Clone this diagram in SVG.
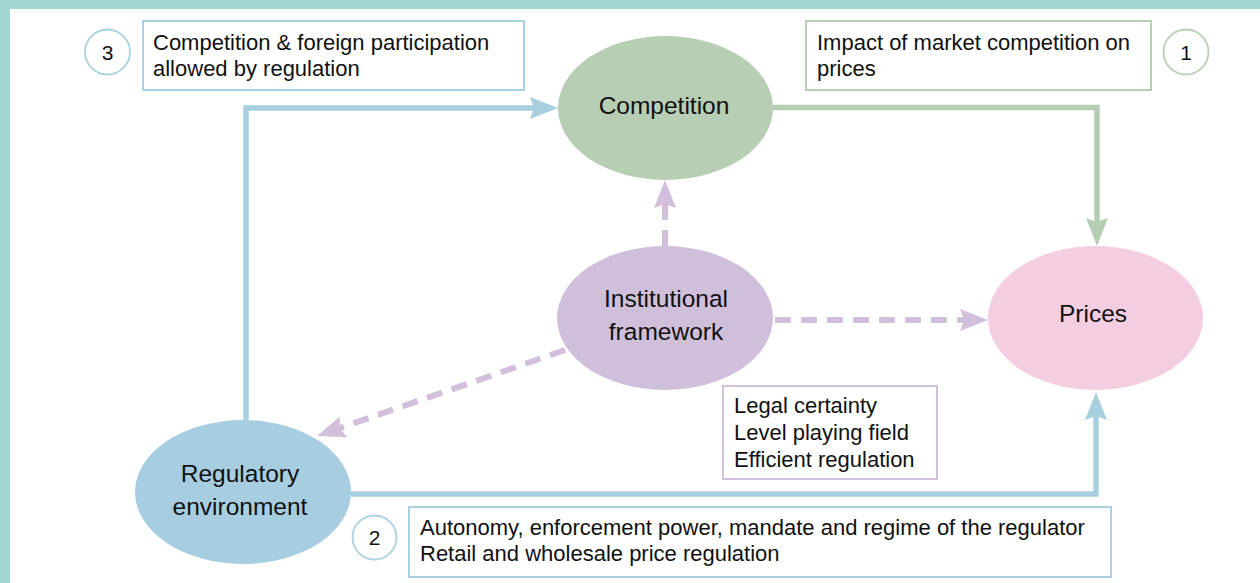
<svg xmlns="http://www.w3.org/2000/svg" width="1260" height="583" viewBox="0 0 1260 583">
  <style>
    .main { font-family: "Liberation Sans", Arial, sans-serif; font-size: 24.5px; fill: #111; text-anchor: middle; }
    .small { font-family: "Liberation Sans", Arial, sans-serif; font-size: 22px; fill: #111; }
    .num { font-family: "Liberation Sans", Arial, sans-serif; font-size: 21px; fill: #111; text-anchor: middle; }
    .box { fill: #fff; stroke-width: 2; }
    .circ { fill: #fff; stroke-width: 1.8; }
    .solid { fill: none; stroke-width: 5.5; stroke-linejoin: miter; }
    .dash { fill: none; stroke: #d1bfdb; stroke-width: 6; stroke-dasharray: 16 10; }
  </style>
  <defs>
    <marker id="arrBlue" viewBox="0 0 28 22" markerWidth="28" markerHeight="22" markerUnits="userSpaceOnUse" refX="20" refY="11" orient="auto">
      <path d="M0,0 L28,11 L0,22 L4,11 z" fill="#a7cfe0"/>
    </marker>
    <marker id="arrGreen" viewBox="0 0 28 22" markerWidth="28" markerHeight="22" markerUnits="userSpaceOnUse" refX="20" refY="11" orient="auto">
      <path d="M0,0 L28,11 L0,22 L4,11 z" fill="#b5cdb3"/>
    </marker>
    <marker id="arrPurple" viewBox="0 0 28 22" markerWidth="28" markerHeight="22" markerUnits="userSpaceOnUse" refX="20" refY="11" orient="auto">
      <path d="M0,0 L28,11 L0,22 L4,11 z" fill="#d1bfdb"/>
    </marker>
  </defs>

  <!-- frame -->
  <rect x="0" y="0" width="1260" height="9" fill="#a1d5d4"/>
  <rect x="0" y="0" width="10" height="583" fill="#a1d5d4"/>

  <!-- connectors -->
  <g id="connectors">
    <path class="solid" stroke="#b5cdb3" d="M773,107.5 H1097 V238" marker-end="url(#arrGreen)"/>
    <path class="solid" stroke="#a7cfe0" d="M246,420 V108 H550" marker-end="url(#arrBlue)"/>
    <path class="solid" stroke="#a7cfe0" d="M351,494 H1096 V400" marker-end="url(#arrBlue)"/>
    <path class="dash" d="M665,246 V188" marker-end="url(#arrPurple)"/>
    <path class="dash" d="M775,320 H980" marker-end="url(#arrPurple)"/>
    <path class="dash" d="M565,350 L324.6,433.4" marker-end="url(#arrPurple)"/>
  </g>

  <!-- nodes -->
  <g id="competition">
    <ellipse cx="665.5" cy="108" rx="107.5" ry="72" fill="#b7cdb4"/>
    <text class="main" x="664" y="114">Competition</text>
  </g>
  <g id="prices">
    <ellipse cx="1095.5" cy="318" rx="107.5" ry="72" fill="#f3cde0"/>
    <text class="main" x="1093" y="322">Prices</text>
  </g>
  <g id="institutional">
    <ellipse cx="665" cy="318" rx="108" ry="72" fill="#d0bfdb"/>
    <text class="main" x="666" y="307">Institutional</text>
    <text class="main" x="666" y="340">framework</text>
  </g>
  <g id="regulatory">
    <ellipse cx="243" cy="492" rx="108" ry="72" fill="#a6cde0"/>
    <text class="main" x="240" y="482">Regulatory</text>
    <text class="main" x="240" y="515">environment</text>
  </g>

  <g id="note3">
    <circle class="circ" cx="107.5" cy="52" r="22.5" stroke="#a9d1e1"/>
    <text class="num" x="107.5" y="59.5">3</text>
    <rect class="box" x="143" y="21" width="381" height="69" stroke="#a9d1e1"/>
    <text class="small" x="153" y="50">Competition &amp; foreign participation</text>
    <text class="small" x="153" y="76">allowed by regulation</text>
  </g>
  <g id="note1">
    <rect class="box" x="806" y="21" width="345" height="69" stroke="#b7d1b5"/>
    <text class="small" x="817" y="50">Impact of market competition on</text>
    <text class="small" x="817" y="76">prices</text>
    <circle class="circ" cx="1186" cy="52" r="22.5" stroke="#b7d1b5"/>
    <text class="num" x="1186" y="59.5">1</text>
  </g>
  <g id="noteLegal">
    <rect class="box" x="723" y="386" width="214" height="93" stroke="#d1bfdb"/>
    <text class="small" x="734" y="413">Legal certainty</text>
    <text class="small" x="734" y="440">Level playing field</text>
    <text class="small" x="734" y="467">Efficient regulation</text>
  </g>
  <g id="note2">
    <circle class="circ" cx="374.5" cy="537.5" r="22" stroke="#a9d1e1"/>
    <text class="num" x="374.5" y="545">2</text>
    <rect class="box" x="409" y="507" width="702" height="70" stroke="#a9d1e1"/>
    <text class="small" x="420" y="535">Autonomy, enforcement power, mandate and regime of the regulator</text>
    <text class="small" x="420" y="561">Retail and wholesale price regulation</text>
  </g>
</svg>
